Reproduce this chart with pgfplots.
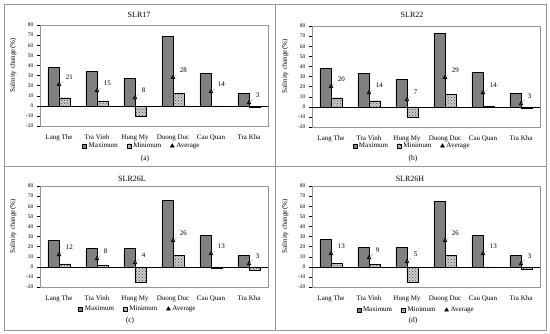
\documentclass[border=0pt]{standalone}
\usepackage{fontspec}
\setmainfont{Liberation Serif}
\usepackage{pgfplots}
\pgfplotsset{compat=1.18}
\usepackage{pgfplotstable}
\usetikzlibrary{patterns}

% x: 0 Lang The, 1 Tra Vinh, 2 Hung My, 3 Duong Duc, 4 Cau Quan, 5 Tra Kha
\pgfplotstableread{
x max min avg
0 38 8 21
1 34 5 15
2 27 -10 8
3 69 12 28
4 32 -0.5 14
5 12 -1 3
}\slrA
\pgfplotstableread{
x max min avg
0 38 9 20
1 33 6 14
2 27 -10 7
3 73 12.5 29
4 34 0.5 14
5 13.5 -1 3
}\slrB
\pgfplotstableread{
x max min avg
0 26 3 12
1 18 2 8
2 18.5 -15.5 4
3 66 11 26
4 31 -1 13
5 11 -3.5 3
}\slrC
\pgfplotstableread{
x max min avg
0 27 3.5 13
1 19 2.5 9
2 19.5 -15.5 5
3 65 11 26
4 31 -0.5 13
5 11 -2.5 3
}\slrD

\definecolor{maxgray}{RGB}{128,128,128}
\definecolor{frame}{RGB}{150,150,150}

\pgfplotsset{
  panel/.style={
    width=228pt, height=101pt, scale only axis,
    xmin=-0.5, xmax=5.5, ymin=-20, ymax=80,
    ytick={-20,-10,...,80},
    xtick={0,...,5},
    xticklabels={Lang The, Tra Vinh, Hung My, Duong Duc, Cau Quan, Tra Kha},
    x tick style={draw=none},
    y tick style={black, thin},
    tick align=outside, ytick pos=left,
    major tick length=3pt,
    axis line style={frame},
    yticklabel style={font=\fontsize{5.5}{6}\selectfont},
    xticklabel style={font=\fontsize{7}{8}\selectfont, yshift=-2pt},
    /pgf/number format/assume math mode=true,
    every axis y label/.style={at={(axis description cs:-0.118,0.6)}, rotate=90,
      anchor=center, font=\fontsize{7}{8}\selectfont},
    ylabel={Salinity change(\%)},
    legend columns=3,
    legend style={draw=none, fill=none, font=\fontsize{7}{8}\selectfont,
      anchor=center, inner sep=0pt,
      /tikz/every even column/.append style={column sep=7pt}},
    clip=false,
  },
  maxbar/.style={ybar, bar width=0.29, bar shift=-0.145, fill=maxgray, draw=black, thin,
    legend image code/.code={\draw[fill=maxgray, draw=black, thin] (0pt,-2pt) rectangle (4pt,2pt);}},
  minbar/.style={ybar, bar width=0.29, bar shift=0.145, fill=gray!40, draw=black, thin,
    postaction={pattern=crosshatch dots, pattern color=black!70},
    legend image code/.code={\draw[fill=gray!40, draw=black, thin,
      postaction={pattern=crosshatch dots, pattern color=black!70}] (0pt,-2pt) rectangle (4pt,2pt);}},
  avgplot/.style={only marks, mark=triangle*, mark size=2.3pt, black,
    nodes near coords={},
    every node near coord/.style={inner sep=0pt, outer sep=0pt, minimum size=0pt,
      pin={[pin distance=7pt, pin edge={gray!70, thin, shorten >=2.5pt}, font=\fontsize{7}{8}\selectfont,
        inner sep=1pt]35:\pgfmathprintnumber{\pgfplotspointmeta}}}},
}

\newcommand{\panelplots}[1]{%
  \addplot[maxbar] table[x=x, y=max] {#1};
  \addplot[minbar] table[x=x, y=min] {#1};
  \draw[black, thin] (axis cs:-0.5,0) -- (axis cs:5.5,0);
  \addplot[avgplot] table[x=x, y=avg] {#1};
  \legend{Maximum, Minimum, Average}
}

\begin{document}
\begin{tikzpicture}
\useasboundingbox (0pt,0pt) rectangle (550pt,333pt);
% panel frames
\draw[frame, thin] (4pt,3pt) rectangle (546pt,329pt);
\draw[frame, thin] (275pt,3pt) -- (275pt,329pt);
\draw[frame, thin] (4pt,167pt) -- (546pt,167pt);

% (a)
\begin{axis}[panel, at={(40pt,207pt)}, anchor=south west,
  legend style={at={(axis description cs:0.447,-0.198)}}]
\panelplots{\slrA}
\end{axis}
\node[font=\fontsize{8}{9}\selectfont] at (139pt,318pt) {SLR17};
\node[font=\fontsize{7.5}{9}\selectfont] at (145pt,174pt) {(a)};

% (b)
\begin{axis}[panel, at={(312pt,206pt)}, anchor=south west,
  legend style={at={(axis description cs:0.439,-0.188)}}]
\panelplots{\slrB}
\end{axis}
\node[font=\fontsize{8}{9}\selectfont] at (412pt,318pt) {SLR22};
\node[font=\fontsize{7.5}{9}\selectfont] at (413pt,174pt) {(b)};

% (c)
\begin{axis}[panel, at={(40pt,46pt)}, anchor=south west,
  legend style={at={(axis description cs:0.43,-0.218)}}]
\panelplots{\slrC}
\end{axis}
\node[font=\fontsize{8}{9}\selectfont] at (132pt,154pt) {SLR26L};
\node[font=\fontsize{7.5}{9}\selectfont] at (130pt,12pt) {(c)};

% (d)
\begin{axis}[panel, at={(312pt,46pt)}, anchor=south west,
  legend style={at={(axis description cs:0.457,-0.228)}}]
\panelplots{\slrD}
\end{axis}
\node[font=\fontsize{8}{9}\selectfont] at (410pt,154pt) {SLR26H};
\node[font=\fontsize{7.5}{9}\selectfont] at (413pt,12pt) {(d)};
\end{tikzpicture}
\end{document}
